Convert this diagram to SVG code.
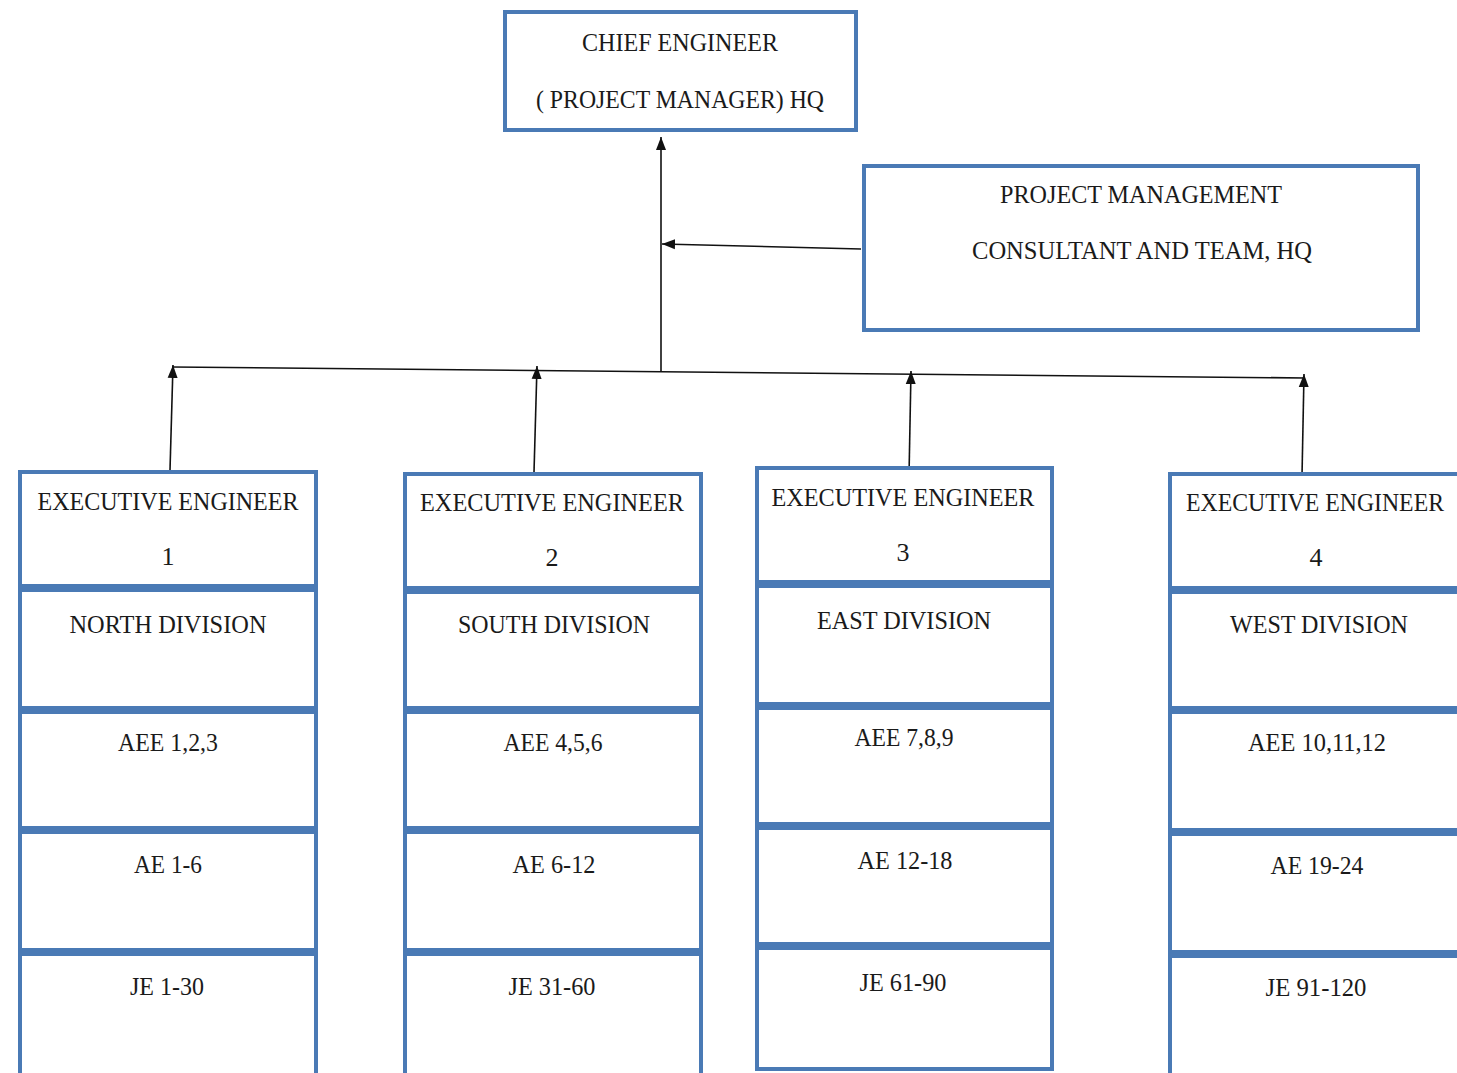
<svg xmlns="http://www.w3.org/2000/svg" width="1457" height="1073" viewBox="0 0 1457 1073">
  <style>
    .box { fill: #ffffff; stroke: #4a7ab5; stroke-width: 4; }
    .lbl { font-family: "Liberation Serif", "Times New Roman", serif; font-size: 26px; fill: #1a1a1a; text-anchor: middle; }
    .wire { stroke: #111111; stroke-width: 1.6; fill: none; }
  </style>
  <defs>
    <marker id="head" markerUnits="userSpaceOnUse" markerWidth="14" markerHeight="12" refX="13" refY="6" orient="auto">
      <path d="M0,1 L13,6 L0,11 Z" fill="#111111"/>
    </marker>
  </defs>
  <rect width="1457" height="1073" fill="#ffffff"/>

  <g id="connectors">
    <line class="wire" x1="661" y1="372" x2="661" y2="137" marker-end="url(#head)"/>
    <line class="wire" x1="861" y1="249" x2="662" y2="244" marker-end="url(#head)"/>
    <line class="wire" x1="172" y1="367" x2="1305" y2="378"/>
    <line class="wire" x1="170" y1="470" x2="173" y2="365" marker-end="url(#head)"/>
    <line class="wire" x1="534" y1="472" x2="537" y2="366" marker-end="url(#head)"/>
    <line class="wire" x1="909" y1="476" x2="911" y2="371" marker-end="url(#head)"/>
    <line class="wire" x1="1302" y1="476" x2="1304" y2="374" marker-end="url(#head)"/>
  </g>

  <g id="chief-engineer">
    <rect class="box" x="505" y="12" width="351" height="118"/>
    <text class="lbl" x="680" y="51" textLength="196" lengthAdjust="spacingAndGlyphs">CHIEF ENGINEER</text>
    <text class="lbl" x="680" y="108" textLength="288" lengthAdjust="spacingAndGlyphs">( PROJECT MANAGER) HQ</text>
  </g>

  <g id="pmc-team">
    <rect class="box" x="864" y="166" width="554" height="164"/>
    <text class="lbl" x="1141" y="203" textLength="282" lengthAdjust="spacingAndGlyphs">PROJECT MANAGEMENT</text>
    <text class="lbl" x="1142" y="259" textLength="340" lengthAdjust="spacingAndGlyphs">CONSULTANT AND TEAM, HQ</text>
  </g>

  <!-- North division column -->
  <g id="ee-1">
    <rect class="box" x="20" y="472" width="296" height="114"/>
    <text class="lbl" x="168" y="510" textLength="261" lengthAdjust="spacingAndGlyphs">EXECUTIVE ENGINEER</text>
    <text class="lbl" x="168" y="565">1</text>
  </g>
  <g id="north-division">
    <rect class="box" x="20" y="590" width="296" height="118"/>
    <text class="lbl" x="168" y="633" textLength="197" lengthAdjust="spacingAndGlyphs">NORTH DIVISION</text>
  </g>
  <g id="aee-north">
    <rect class="box" x="20" y="712" width="296" height="116"/>
    <text class="lbl" x="168" y="751" textLength="100" lengthAdjust="spacingAndGlyphs">AEE 1,2,3</text>
  </g>
  <g id="ae-north">
    <rect class="box" x="20" y="832" width="296" height="118"/>
    <text class="lbl" x="168" y="873" textLength="68" lengthAdjust="spacingAndGlyphs">AE 1-6</text>
  </g>
  <g id="je-north">
    <rect class="box" x="20" y="954" width="296" height="130"/>
    <text class="lbl" x="167" y="995" textLength="74" lengthAdjust="spacingAndGlyphs">JE 1-30</text>
  </g>

  <!-- South division column -->
  <g id="ee-2">
    <rect class="box" x="405" y="474" width="296" height="114"/>
    <text class="lbl" x="552" y="511" textLength="264" lengthAdjust="spacingAndGlyphs">EXECUTIVE ENGINEER</text>
    <text class="lbl" x="552" y="566">2</text>
  </g>
  <g id="south-division">
    <rect class="box" x="405" y="592" width="296" height="116"/>
    <text class="lbl" x="554" y="633" textLength="192" lengthAdjust="spacingAndGlyphs">SOUTH DIVISION</text>
  </g>
  <g id="aee-south">
    <rect class="box" x="405" y="712" width="296" height="116"/>
    <text class="lbl" x="553" y="751" textLength="99" lengthAdjust="spacingAndGlyphs">AEE 4,5,6</text>
  </g>
  <g id="ae-south">
    <rect class="box" x="405" y="832" width="296" height="118"/>
    <text class="lbl" x="554" y="873" textLength="83" lengthAdjust="spacingAndGlyphs">AE 6-12</text>
  </g>
  <g id="je-south">
    <rect class="box" x="405" y="954" width="296" height="130"/>
    <text class="lbl" x="552" y="995" textLength="87" lengthAdjust="spacingAndGlyphs">JE 31-60</text>
  </g>

  <!-- East division column -->
  <g id="ee-3">
    <rect class="box" x="757" y="468" width="295" height="114"/>
    <text class="lbl" x="903" y="506" textLength="263" lengthAdjust="spacingAndGlyphs">EXECUTIVE ENGINEER</text>
    <text class="lbl" x="903" y="561">3</text>
  </g>
  <g id="east-division">
    <rect class="box" x="757" y="586" width="295" height="118"/>
    <text class="lbl" x="904" y="629" textLength="174" lengthAdjust="spacingAndGlyphs">EAST DIVISION</text>
  </g>
  <g id="aee-east">
    <rect class="box" x="757" y="708" width="295" height="116"/>
    <text class="lbl" x="904" y="746" textLength="99" lengthAdjust="spacingAndGlyphs">AEE 7,8,9</text>
  </g>
  <g id="ae-east">
    <rect class="box" x="757" y="828" width="295" height="116"/>
    <text class="lbl" x="905" y="869" textLength="95" lengthAdjust="spacingAndGlyphs">AE 12-18</text>
  </g>
  <g id="je-east">
    <rect class="box" x="757" y="948" width="295" height="121"/>
    <text class="lbl" x="903" y="991" textLength="87" lengthAdjust="spacingAndGlyphs">JE 61-90</text>
  </g>

  <!-- West division column (runs past the right edge) -->
  <g id="ee-4">
    <rect class="box" x="1170" y="474" width="320" height="114"/>
    <text class="lbl" x="1315" y="511" font-size="24" textLength="258" lengthAdjust="spacingAndGlyphs">EXECUTIVE ENGINEER</text>
    <text class="lbl" x="1316" y="566">4</text>
  </g>
  <g id="west-division">
    <rect class="box" x="1170" y="592" width="320" height="116"/>
    <text class="lbl" x="1319" y="633" textLength="178" lengthAdjust="spacingAndGlyphs">WEST DIVISION</text>
  </g>
  <g id="aee-west">
    <rect class="box" x="1170" y="712" width="320" height="118"/>
    <text class="lbl" x="1317" y="751" textLength="138" lengthAdjust="spacingAndGlyphs">AEE 10,11,12</text>
  </g>
  <g id="ae-west">
    <rect class="box" x="1170" y="834" width="320" height="118"/>
    <text class="lbl" x="1317" y="874" textLength="93" lengthAdjust="spacingAndGlyphs">AE 19-24</text>
  </g>
  <g id="je-west">
    <rect class="box" x="1170" y="956" width="320" height="130"/>
    <text class="lbl" x="1316" y="996" textLength="101" lengthAdjust="spacingAndGlyphs">JE 91-120</text>
  </g>
</svg>
